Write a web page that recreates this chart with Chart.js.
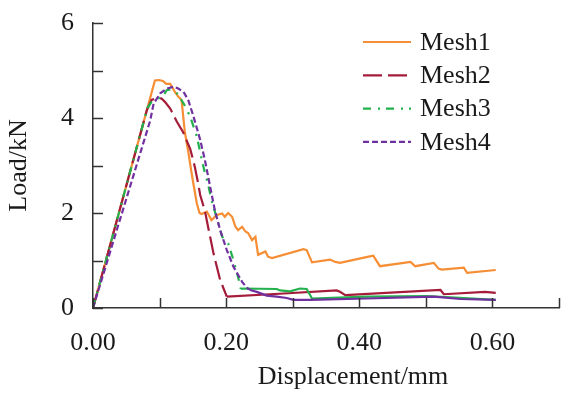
<!DOCTYPE html>
<html lang="en">
<head>
<meta charset="UTF-8" />
<title>Load - Displacement</title>
<script src="https://cdn.jsdelivr.net/npm/chart.js"></script>
<style>
  html, body { margin: 0; padding: 0; background: #fff; }
  #wrap { width: 572px; height: 402px; position: relative; }
</style>
</head>
<body>
<div id="wrap"><canvas id="loadChart"></canvas></div>
<script>
  // values (displacement in mm, load in kN)
  const seriesNames = ['Mesh1', 'Mesh2', 'Mesh3', 'Mesh4'];

  const mesh1X = [0, 0.093, 0.099, 0.105, 0.110, 0.116, 0.123, 0.128, 0.133, 0.138, 0.143, 0.148, 0.151, 0.156, 0.160, 0.163,
    0.171, 0.178, 0.186, 0.194, 0.198, 0.203, 0.209, 0.214, 0.218, 0.224, 0.229, 0.233, 0.239, 0.244, 0.248, 0.259, 0.263,
    0.269, 0.316, 0.321, 0.329, 0.356, 0.364, 0.371, 0.414, 0.421, 0.431, 0.477, 0.484, 0.512, 0.519, 0.524, 0.557, 0.562, 0.605];
  const mesh1Y = [0, 4.79, 4.80, 4.78, 4.72, 4.72, 4.55, 4.45, 4.38, 3.70, 3.30, 2.85, 2.60, 2.20, 2.00, 1.98,
    2.03, 1.85, 1.96, 1.99, 1.92, 2.00, 1.92, 1.71, 1.64, 1.71, 1.61, 1.58, 1.43, 1.50, 1.12, 1.19, 1.08,
    1.05, 1.24, 1.22, 0.96, 1.02, 0.97, 0.95, 1.08, 1.10, 0.88, 0.97, 0.88, 0.95, 0.83, 0.81, 0.85, 0.74, 0.80];

  const mesh2X = [0, 0.081, 0.088, 0.095, 0.103, 0.108, 0.116, 0.126, 0.135, 0.146, 0.153, 0.158, 0.161, 0.168, 0.173,
    0.181, 0.191, 0.201, 0.280, 0.366, 0.371, 0.379, 0.522, 0.527, 0.589, 0.605];
  const mesh2Y = [0, 4.17, 4.38, 4.42, 4.41, 4.34, 4.20, 3.92, 3.71, 3.35, 2.97, 2.62, 2.38, 2.05, 1.70,
    1.15, 0.59, 0.24, 0.30, 0.37, 0.34, 0.27, 0.38, 0.29, 0.34, 0.32];

  const mesh3X = [0, 0.082, 0.088, 0.098, 0.106, 0.111, 0.118, 0.126, 0.136, 0.146, 0.156, 0.163, 0.168, 0.173, 0.178,
    0.186, 0.194, 0.203, 0.211, 0.219, 0.222, 0.226, 0.276, 0.281, 0.296, 0.311, 0.321, 0.329, 0.411, 0.502, 0.571, 0.605];
  const mesh3Y = [0, 4.22, 4.34, 4.41, 4.48, 4.59, 4.60, 4.52, 4.31, 4.03, 3.61, 3.15, 2.85, 2.60, 2.27,
    1.89, 1.50, 1.36, 1.01, 0.59, 0.40, 0.41, 0.40, 0.37, 0.35, 0.41, 0.40, 0.20, 0.24, 0.25, 0.20, 0.17];

  const mesh4X = [0, 0.086, 0.091, 0.101, 0.111, 0.121, 0.128, 0.136, 0.143, 0.151, 0.161, 0.168, 0.176, 0.183, 0.191,
    0.201, 0.211, 0.224, 0.231, 0.236, 0.246, 0.261, 0.276, 0.291, 0.301, 0.326, 0.411, 0.512, 0.552, 0.605];
  const mesh4Y = [0, 3.95, 4.30, 4.52, 4.62, 4.66, 4.62, 4.55, 4.38, 4.03, 3.54, 3.12, 2.55, 2.06, 1.64,
    1.22, 0.87, 0.55, 0.43, 0.38, 0.34, 0.26, 0.24, 0.21, 0.17, 0.17, 0.20, 0.24, 0.19, 0.17];

  const xTickLabels = ['0.00', '0.20', '0.40', '0.60'];
  const yTickLabels = ['0', '2', '4', '6'];

  const colors = ['#f58e34', '#a51c3a', '#22b14c', '#7030a0'];
  const dashes = [[], [19, 6], [8, 7, 2, 6], [6, 3]];
  // past this displacement the curve is drawn solid in the original
  const dashEnd = [0, 0.201, 0.222, 0.236];
  const axisColor = '#333';
  const textColor = '#1a1a1a';
  const serif = "'Liberation Serif', 'Times New Roman', serif";

  const pts = (xs, ys) => xs.map((x, i) => ({ x: x, y: ys[i] }));
  const allX = [mesh1X, mesh2X, mesh3X, mesh4X];
  const allY = [mesh1Y, mesh2Y, mesh3Y, mesh4Y];

  const datasets = seriesNames.map((name, i) => ({
    label: name,
    data: pts(allX[i], allY[i]),
    borderColor: colors[i],
    backgroundColor: colors[i],
    borderWidth: 2.2,
    borderDash: dashes[i],
    segment: {
      borderDash: ctx => ctx.p0.parsed.x >= dashEnd[i] - 1e-9 ? [] : dashes[i]
    },
    pointRadius: 0,
    tension: 0,
    fill: false,
    order: 4 - i
  }));

  // inward tick marks, legend and the x title
  const decorations = {
    id: 'decorations',
    afterDraw(chart) {
      const { ctx, scales: { x, y } } = chart;
      ctx.save();
      ctx.strokeStyle = axisColor;
      ctx.lineWidth = 1.5;
      ctx.setLineDash([]);
      x.ticks.forEach(t => {
        const px = Math.round(x.getPixelForValue(t.value)) + 0.5;
        ctx.beginPath();
        ctx.moveTo(px, y.bottom);
        ctx.lineTo(px, y.bottom - 10);
        ctx.stroke();
      });
      y.ticks.forEach(t => {
        const py = Math.round(y.getPixelForValue(t.value)) + 0.5;
        ctx.beginPath();
        ctx.moveTo(x.left, py);
        ctx.lineTo(x.left + 10, py);
        ctx.stroke();
      });

      // legend
      ctx.font = '26px ' + serif;
      ctx.textBaseline = 'middle';
      ctx.textAlign = 'left';
      chart.data.datasets.forEach((ds, i) => {
        const ly = 42 + i * 33.3;
        ctx.strokeStyle = ds.borderColor;
        ctx.lineWidth = 2.2;
        ctx.setLineDash(ds.borderDash);
        ctx.beginPath();
        ctx.moveTo(363, ly);
        ctx.lineTo(411, ly);
        ctx.stroke();
        ctx.setLineDash([]);
        ctx.fillStyle = textColor;
        ctx.fillText(ds.label, 420, ly + 1);
      });

      // x axis title
      ctx.textAlign = 'center';
      ctx.fillText('Displacement/mm', 353, 377);
      ctx.restore();
    }
  };

  new Chart(document.getElementById('loadChart'), {
    type: 'line',
    data: { datasets: datasets },
    options: {
      responsive: true,
      maintainAspectRatio: false,
      animation: false,
      devicePixelRatio: 1,
      layout: { padding: { left: 0, top: 23, right: 13, bottom: 0 } },
      plugins: {
        legend: { display: false },
        tooltip: { enabled: false }
      },
      scales: {
        x: {
          type: 'linear',
          min: 0,
          max: 0.7,
          grid: { display: false, drawTicks: false },
          border: { display: true, color: axisColor, width: 1.5 },
          ticks: {
            stepSize: 0.1,
            autoSkip: false,
            maxRotation: 0,
            padding: 20,
            color: textColor,
            font: { family: serif, size: 26 },
            callback: v => xTickLabels.find(l => Math.abs(parseFloat(l) - v) < 1e-6) || ''
          },
          afterFit: s => { s.height = 94; s.paddingLeft = 0; s.paddingRight = 0; }
        },
        y: {
          type: 'linear',
          min: 0,
          max: 6,
          grid: { display: false, drawTicks: false },
          border: { display: true, color: axisColor, width: 1.5 },
          ticks: {
            stepSize: 1,
            autoSkip: false,
            padding: 19,
            color: textColor,
            font: { family: serif, size: 26 },
            callback: v => yTickLabels.find(l => Math.abs(parseFloat(l) - v) < 1e-6) || ''
          },
          title: {
            display: true,
            text: 'Load/kN',
            color: textColor,
            font: { family: serif, size: 26 },
            padding: { top: 4, bottom: 0 }
          },
          afterFit: s => { s.width = 93; s.paddingTop = 0; s.paddingBottom = 0; }
        }
      }
    },
    plugins: [decorations]
  });
</script>
</body>
</html>
